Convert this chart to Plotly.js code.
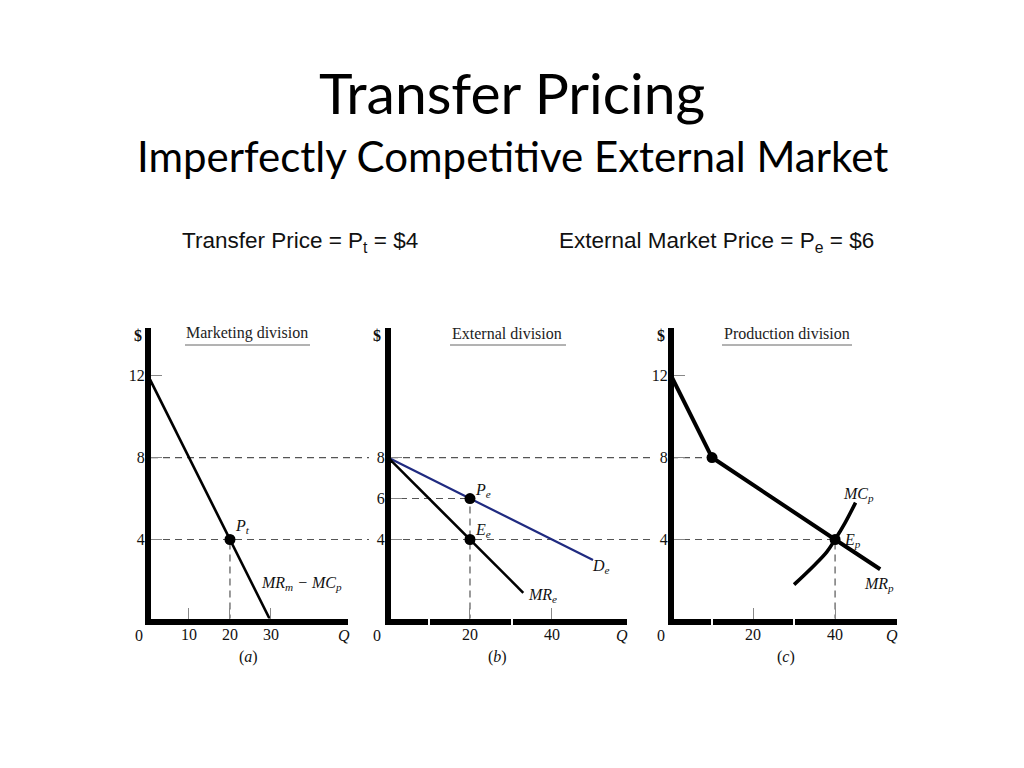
<!DOCTYPE html>
<html>
<head>
<meta charset="utf-8">
<script src="https://cdn.plot.ly/plotly-3.0.1.min.js"></script>
<style>html,body{margin:0;padding:0;background:#fff;}#chart{width:1024px;height:768px;}</style>
</head>
<body>
<div id="chart"></div>
<script>
// ---------- data ----------
const transferPrice = 4;          // Pt
const externalPrice = 6;          // Pe
const chokePrice = 8;             // price level at 8

// (a) Marketing division: MRm - MCp
const mktQ = [0, 30];
const mktP = [12, 0];
const ptQ = [20];
const ptP = [4];

// (b) External division
const deQ = [0, 50];
const deP = [8, 3];
const mreQ = [0, 33];
const mreP = [8, 1.4];
const extPtsQ = [20, 20];
const extPtsP = [6, 4];

// (c) Production division
const mrpQ = [0, 10, 40, 51];
const mrpP = [12, 8, 4, 2.55];
const mcpQ = [30, 34.7, 38, 40, 42.4, 45];
const mcpP = [1.8, 2.7, 3.4, 4, 4.8, 5.8];
const prodPtsQ = [10, 40];
const prodPtsP = [8, 4];

// ticks
const xTicksA = [10, 20, 30];
const xTicksB = [20, 40];
const xTicksC = [20, 40];
const yTicksA = [4, 8, 12];
const yTicksB = [4, 6, 8];
const yTicksC = [4, 8, 12];

// ---------- layout helpers (pixel -> paper) ----------
const W = 1024, H = 768;
const px = x => x / W;
const py = y => 1 - y / H;

const serif = 'Liberation Serif, Times New Roman, serif';
const sans = 'Liberation Sans, Arial, sans-serif';
const titleFont = 'Lato, Open Sans, sans-serif';

const yRange = [0.146, 14.32];
const yDomain = [py(618.5), py(328)];

function xAxis(domain, range, ticks) {
  return {
    domain: domain, range: range, anchor: null,
    showline: true, linewidth: 6, linecolor: '#000',
    showgrid: false, zeroline: false,
    tickmode: 'array', tickvals: ticks, ticktext: ticks.map(String),
    ticks: 'inside', ticklen: 11, tickwidth: 1, tickcolor: '#888',
    ticklabelstandoff: -4,
    tickfont: {family: serif, size: 16, color: '#111'},
    fixedrange: true
  };
}
function yAxis(ticks) {
  return {
    domain: yDomain, range: yRange,
    showline: true, linewidth: 6, linecolor: '#000',
    showgrid: false, zeroline: false,
    tickmode: 'array', tickvals: ticks, ticktext: ticks.map(String),
    ticks: 'inside', ticklen: 11, tickwidth: 1, tickcolor: '#888',
    ticklabelstandoff: -3,
    tickfont: {family: serif, size: 16, color: '#111'},
    fixedrange: true
  };
}

const xa = xAxis([px(151), px(348)], [0.73, 48.8], xTicksA); xa.anchor = 'y';
const xb = xAxis([px(391), px(627)], [0.73, 58.3], xTicksB); xb.anchor = 'y2';
const xc = xAxis([px(674), px(897)], [0.73, 55.1], xTicksC); xc.anchor = 'y3';
const ya = yAxis(yTicksA); ya.anchor = 'x';
const yb = yAxis(yTicksB); yb.anchor = 'x2';
const yc = yAxis(yTicksC); yc.anchor = 'x3';

// ---------- traces ----------
const black = '#000';
const blue = '#1f2a80';
const traces = [
  {x: mktQ, y: mktP, xaxis: 'x', yaxis: 'y', mode: 'lines', line: {color: black, width: 2.6}, hoverinfo: 'skip'},
  {x: ptQ, y: ptP, xaxis: 'x', yaxis: 'y', mode: 'markers', marker: {color: black, size: 11}, hoverinfo: 'skip'},

  {x: deQ, y: deP, xaxis: 'x2', yaxis: 'y2', mode: 'lines', line: {color: blue, width: 2.2}, hoverinfo: 'skip'},
  {x: mreQ, y: mreP, xaxis: 'x2', yaxis: 'y2', mode: 'lines', line: {color: black, width: 2.6}, hoverinfo: 'skip'},
  {x: extPtsQ, y: extPtsP, xaxis: 'x2', yaxis: 'y2', mode: 'markers', marker: {color: black, size: 11}, hoverinfo: 'skip'},

  {x: mrpQ, y: mrpP, xaxis: 'x3', yaxis: 'y3', mode: 'lines', line: {color: black, width: 4}, hoverinfo: 'skip'},
  {x: mcpQ, y: mcpP, xaxis: 'x3', yaxis: 'y3', mode: 'lines', line: {color: black, width: 3.6, shape: 'spline'}, hoverinfo: 'skip'},
  {x: prodPtsQ, y: prodPtsP, xaxis: 'x3', yaxis: 'y3', mode: 'markers', marker: {color: black, size: 11}, hoverinfo: 'skip'}
];

// ---------- dashed guides ----------
const dash = {color: '#555', width: 1.2, dash: '7px,5px'};
const shapes = [];
function hPaper(yv, x0, x1) {
  shapes.push({type: 'line', xref: 'paper', yref: 'y', x0: px(x0), x1: px(x1), y0: yv, y1: yv, line: dash, layer: 'below'});
}
function seg(xr, yr, x0, y0, x1, y1) {
  shapes.push({type: 'line', xref: xr, yref: yr, x0: x0, y0: y0, x1: x1, y1: y1, line: dash, layer: 'below'});
}
// price 8 and Pt=4 run across panels (a) and (b)
[chokePrice, transferPrice].forEach(v => { hPaper(v, 151, 369); hPaper(v, 391, 652); });
// panel (a): Pt down to Q
seg('x', 'y', ptQ[0], 0, ptQ[0], ptP[0]);
// panel (b): Pe level and vertical at 20
seg('x2', 'y2', 0, externalPrice, extPtsQ[0], externalPrice);
seg('x2', 'y2', extPtsQ[0], 0, extPtsQ[0], externalPrice);
// panel (c)
seg('x3', 'y3', 0, chokePrice, prodPtsQ[0], chokePrice);
seg('x3', 'y3', 0, transferPrice, prodPtsQ[1], transferPrice);
seg('x3', 'y3', prodPtsQ[1], 0, prodPtsQ[1], transferPrice);

// underline of panel titles
[[185, 310], [450, 566], [722, 852]].forEach(u => {
  shapes.push({type: 'line', xref: 'paper', yref: 'paper', x0: px(u[0]), x1: px(u[1]), y0: py(345), y1: py(345), line: {color: '#666', width: 1}});
});
// small breaks in the printed Q axes of (b) and (c)
[429, 512, 712, 794].forEach(g => {
  shapes.push({type: 'line', xref: 'paper', yref: 'paper', x0: px(g), x1: px(g), y0: py(617), y1: py(626), line: {color: '#fff', width: 2}, layer: 'above'});
});

// ---------- annotations ----------
function ann(text, x, y, font, extra) {
  return Object.assign({text: text, xref: 'paper', yref: 'paper', x: px(x), y: py(y),
    xanchor: 'center', yanchor: 'middle', showarrow: false, font: font}, extra || {});
}
const lbl = {family: serif, size: 16, color: '#111'};
const ital = {family: serif, size: 16, color: '#111'};
const annotations = [
  ann('Imperfectly Competitive External Market', 512, 156, {family: titleFont, size: 42, color: '#000'}),
  ann('Transfer Price = P<sub>t</sub> = $4', 300, 242, {family: sans, size: 22.5, color: '#111'}),
  ann('External Market Price = P<sub>e</sub> = $6', 716, 242, {family: sans, size: 22.5, color: '#111'}),

  ann('Marketing division', 247, 333, {family: serif, size: 16, color: '#222'}),
  ann('External division', 507, 333, {family: serif, size: 16, color: '#222'}),
  ann('Production division', 787, 333, {family: serif, size: 16, color: '#222'}),

  ann('<b>$</b>', 138, 335, lbl), ann('<b>$</b>', 377, 335, lbl), ann('<b>$</b>', 661, 335, lbl),
  ann('0', 138.5, 635, lbl), ann('0', 377, 635, lbl), ann('0', 661, 635, lbl),
  ann('<i>Q</i>', 344, 635, ital), ann('<i>Q</i>', 622, 635, ital), ann('<i>Q</i>', 892, 635, ital),
  ann('(<i>a</i>)', 248, 657, lbl), ann('(<i>b</i>)', 497, 657, lbl), ann('(<i>c</i>)', 786, 657, lbl),

  ann('<i>P<sub>t</sub></i>', 242, 526, ital),
  ann('<i>MR<sub>m</sub> − MC<sub>p</sub></i>', 301, 583, ital),
  ann('<i>P<sub>e</sub></i>', 483, 490, ital),
  ann('<i>E<sub>e</sub></i>', 483, 530, ital),
  ann('<i>D<sub>e</sub></i>', 601, 566, ital),
  ann('<i>MR<sub>e</sub></i>', 542, 595, ital),
  ann('<i>MC<sub>p</sub></i>', 858, 494, ital),
  ann('<i>E<sub>p</sub></i>', 852, 540, ital),
  ann('<i>MR<sub>p</sub></i>', 879, 584, ital)
];

const layout = {
  width: W, height: H,
  margin: {l: 0, r: 0, t: 0, b: 0},
  paper_bgcolor: '#fff', plot_bgcolor: '#fff',
  showlegend: false,
  title: {text: 'Transfer Pricing', x: 0.5, xanchor: 'center', xref: 'paper',
          y: py(94), yref: 'paper', yanchor: 'middle',
          font: {family: titleFont, size: 57, color: '#000'}},
  xaxis: xa, yaxis: ya, xaxis2: xb, yaxis2: yb, xaxis3: xc, yaxis3: yc,
  shapes: shapes, annotations: annotations
};

Plotly.newPlot('chart', traces, layout, {staticPlot: true, displayModeBar: false});
</script>
</body>
</html>
